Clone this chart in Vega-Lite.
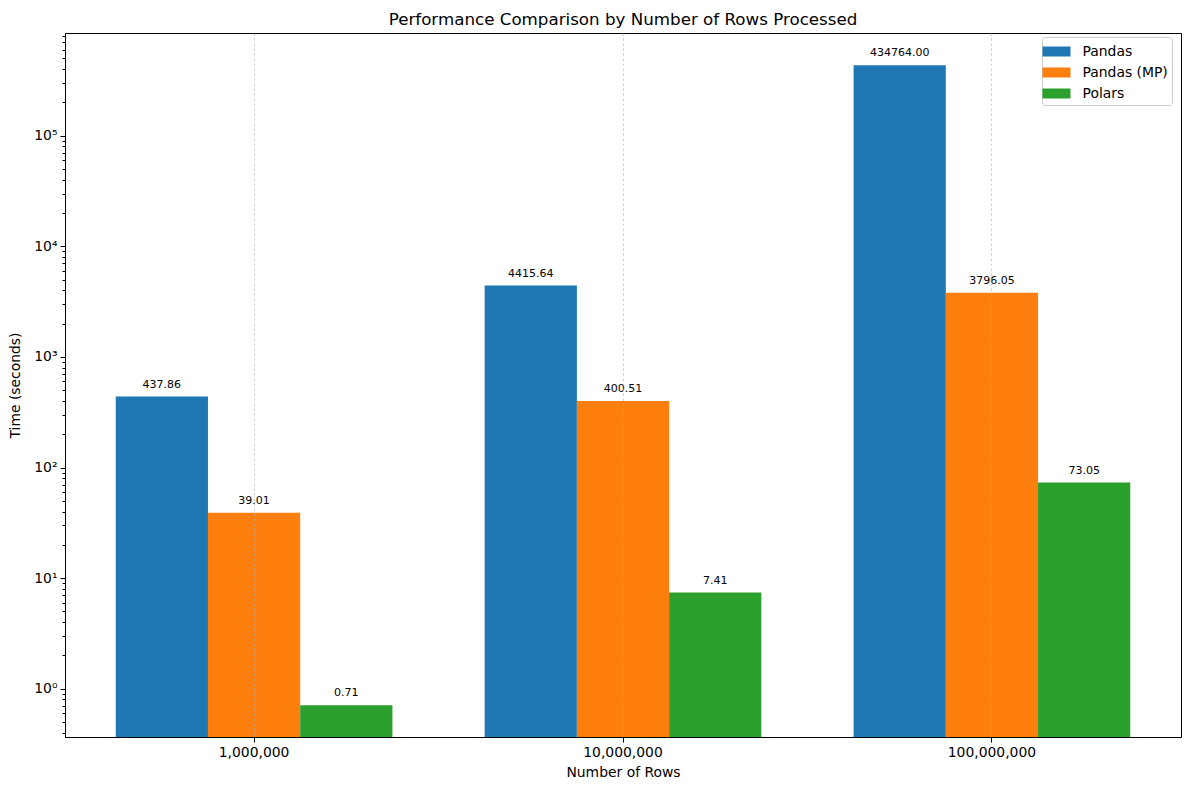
{
  "$schema": "https://vega.github.io/schema/vega-lite/v6.json",
  "autosize": {"type": "none"},
  "padding": {"left": 65, "top": 33, "right": 8, "bottom": 53},
  "width": 1116,
  "height": 704,
  "background": "white",
  "config": {
    "font": "DejaVu Sans",
    "view": {"stroke": "black", "strokeWidth": 1},
    "axis": {"labelFont": "DejaVu Sans", "titleFont": "DejaVu Sans", "labelColor": "black", "titleColor": "black", "tickColor": "black", "domainColor": "black", "labelFontSize": 13.9, "titleFontSize": 13.9, "titleFontWeight": "normal"}
  },
  "title": {"text": "Performance Comparison by Number of Rows Processed", "font": "DejaVu Sans", "fontSize": 16.7, "fontWeight": "normal", "color": "black", "baseline": "alphabetic", "offset": 7, "dy": 16, "anchor": "middle"},
  "data": {
    "values": [
      {"rows": "1,000,000", "library": "Pandas", "time": 437.86},
      {"rows": "1,000,000", "library": "Pandas (MP)", "time": 39.01},
      {"rows": "1,000,000", "library": "Polars", "time": 0.71},
      {"rows": "10,000,000", "library": "Pandas", "time": 4415.64},
      {"rows": "10,000,000", "library": "Pandas (MP)", "time": 400.51},
      {"rows": "10,000,000", "library": "Polars", "time": 7.41},
      {"rows": "100,000,000", "library": "Pandas", "time": 434764.00},
      {"rows": "100,000,000", "library": "Pandas (MP)", "time": 3796.05},
      {"rows": "100,000,000", "library": "Polars", "time": 73.05}
    ]
  },
  "encoding": {
    "x": {
      "field": "rows", "type": "nominal",
      "sort": ["1,000,000", "10,000,000", "100,000,000"],
      "scale": {"paddingInner": 0.25, "paddingOuter": 0.1375},
      "axis": {"title": "Number of Rows", "labelAngle": 0, "tickSize": 5, "labelPadding": 3, "titlePadding": 7,
               "grid": true, "gridColor": "#b0b0b0", "gridDash": [2.5, 2.5], "gridWidth": 0.6, "zindex": 1, "bandPosition": 0.5}
    },
    "xOffset": {"field": "library", "type": "nominal", "sort": ["Pandas", "Pandas (MP)", "Polars"]},
    "y": {
      "field": "time", "type": "quantitative",
      "scale": {"type": "log", "domain": [0.366, 849000], "nice": false},
      "axis": {
        "title": "Time (seconds)", "grid": false,
        "values": [0.4, 0.5, 0.6, 0.7, 0.8, 0.9, 1, 2, 3, 4, 5, 6, 7, 8, 9, 10, 20, 30, 40, 50, 60, 70, 80, 90, 100, 200, 300, 400, 500, 600, 700, 800, 900, 1000, 2000, 3000, 4000, 5000, 6000, 7000, 8000, 9000, 10000, 20000, 30000, 40000, 50000, 60000, 70000, 80000, 90000, 100000, 200000, 300000, 400000, 500000, 600000, 700000, 800000],
        "labelExpr": "datum.value == 1 ? '10⁰' : datum.value == 10 ? '10¹' : datum.value == 100 ? '10²' : datum.value == 1000 ? '10³' : datum.value == 10000 ? '10⁴' : datum.value == 100000 ? '10⁵' : ''",
        "tickSize": {"condition": {"test": "indexof([1,10,100,1000,10000,100000], datum.value) >= 0", "value": 5}, "value": 3},
        "labelPadding": 3,
        "titleX": -43, "titleY": 352, "titleAngle": -90, "titleBaseline": "bottom", "titleAlign": "center"
      }
    }
  },
  "layer": [
    {
      "mark": {"type": "bar"},
      "encoding": {
        "y2": {"datum": 0.366},
        "color": {
          "field": "library", "type": "nominal",
          "sort": ["Pandas", "Pandas (MP)", "Polars"],
          "scale": {"domain": ["Pandas", "Pandas (MP)", "Polars"], "range": ["#1f77b4", "#ff7f0e", "#2ca02c"]},
          "legend": {
            "title": null, "orient": "none", "legendX": 977, "legendY": 4,
            "fillColor": "white", "strokeColor": "#cccccc", "cornerRadius": 3, "padding": 4,
            "labelFont": "DejaVu Sans", "labelFontSize": 13.9, "labelColor": "black", "labelOffset": 15.5,
            "symbolType": "M-1.333,-0.476H1.333V0.476H-1.333Z", "symbolSize": 441, "symbolStrokeWidth": 0, "symbolOpacity": 1,
            "rowPadding": 3
          }
        }
      }
    },
    {
      "mark": {"type": "text", "baseline": "alphabetic", "dy": -9, "fontSize": 11, "font": "DejaVu Sans", "color": "black"},
      "encoding": {
        "text": {"field": "time", "type": "quantitative", "format": ".2f"}
      }
    }
  ]
}
